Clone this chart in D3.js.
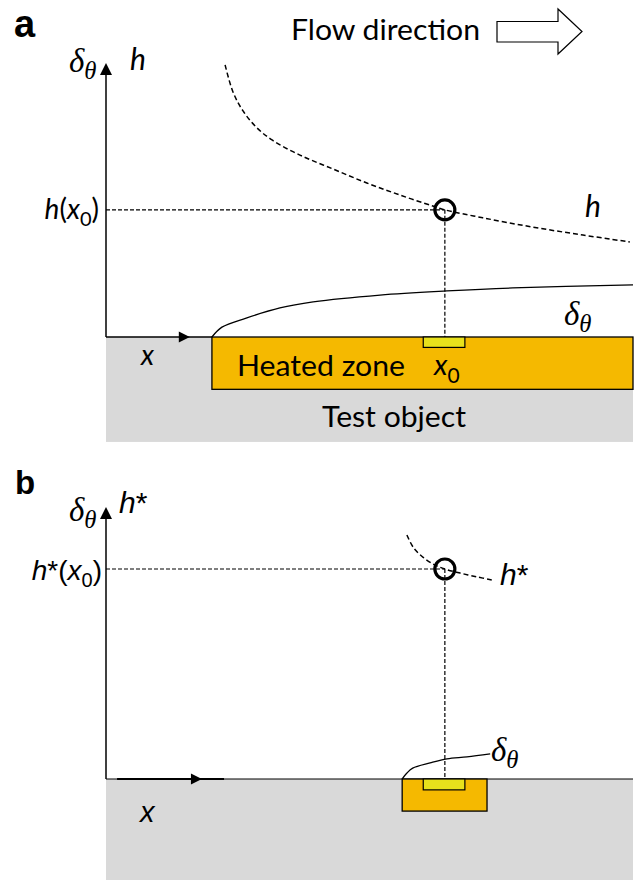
<!DOCTYPE html>
<html>
<head>
<meta charset="utf-8">
<script src="https://cdn.jsdelivr.net/npm/d3@7"></script>
<style>
  html, body { margin: 0; padding: 0; background: #fff; }
  svg { display: block; }
</style>
</head>
<body>
<div id="chart"></div>
<script>
// ---- Schematic data (abscissa 0..10 along the wall, ordinate 0..10 above the wall) ----
// Panel a: heat transfer coefficient h(x) over a long heated zone
const hCurveX = [2.26, 2.41, 2.60, 2.85, 3.15, 3.68, 4.31, 4.95, 5.58, 6.20, 6.43, 7.15, 8.10, 9.05, 9.94];
const hCurveY = [9.93, 8.94, 8.25, 7.66, 7.19, 6.64, 6.13, 5.62, 5.18, 4.78, 4.64, 4.35, 4.01, 3.72, 3.47];
// Panel a: thermal boundary layer thickness starting at the heated zone edge
const deltaAX = [2.01, 2.20, 2.66, 3.30, 3.93, 5.20, 6.47, 7.72, 10.0];
const deltaAY = [0.00, 0.36, 0.69, 1.06, 1.28, 1.53, 1.68, 1.79, 1.90];
// Panel b: local coefficient h* over a small heated patch
const hStarX = [5.71, 5.84, 6.03, 6.24, 6.43, 6.72, 7.04, 7.32];
const hStarY = [8.97, 8.49, 8.13, 7.87, 7.72, 7.57, 7.43, 7.32];
// Panel b: thin boundary layer over the patch
const deltaBX = [5.62, 5.71, 5.82, 6.15, 6.47, 6.85, 7.29];
const deltaBY = [0.00, 0.22, 0.40, 0.59, 0.74, 0.81, 0.92];

// Measurement point x0 and read-off values
const x0 = 6.43;
const hAtX0 = 4.64;
const hStarAtX0 = 7.72;

// Solid bodies: [xStart, xEnd, depth below wall]
const heatedZoneA = [2.01, 10.0, 1.91];
const sensorA = [6.02, 6.81, 0.38];
const testObjectA = [0, 10, 3.83];
const heatedZoneB = [5.62, 7.23, 1.18];
const sensorB = [6.02, 6.81, 0.40];
const testObjectB = [0, 10, 3.72];

// Axis arrow positions (along x)
const xArrowA = [0, 1.59];
const xArrowB = [0.21, 2.24, 1.82];

const W = 635, H = 880;
const SANS = "Lato, 'Open Sans', sans-serif";
const ARIAL = "'Liberation Sans', Arial, sans-serif";
const SERIF = "'Liberation Serif', 'Times New Roman', serif";
const ORANGE = "#f5b900";
const YELLOW = "#e8e11c";
const GREY = "#d9d9d9";

const svg = d3.select("#chart").append("svg")
  .attr("width", W).attr("height", H)
  .attr("viewBox", `0 0 ${W} ${H}`);

const x = d3.scaleLinear().domain([0, 10]).range([106, 633]);
const yA = d3.scaleLinear().domain([0, 10]).range([337, 63]);
const yB = d3.scaleLinear().domain([0, 10]).range([779, 507]);

const line = (xs, ys, ys2) => d3.line()
  .x((d, i) => x(xs[i]))
  .y((d, i) => ys2(ys[i]))
  .curve(d3.curveCatmullRom.alpha(0.5))(xs);

function deltaTheta(g, px, py, size) {
  const t = g.append("text")
    .attr("x", px).attr("y", py)
    .attr("font-family", SERIF).attr("font-style", "italic")
    .attr("font-size", size).attr("fill", "#000");
  t.append("tspan").text("δ");
  t.append("tspan").attr("font-size", size * 0.75).attr("dy", size * 0.22).text("θ");
  return t;
}

function yAxisArrow(g, ys) {
  g.append("line")
    .attr("x1", x(0)).attr("x2", x(0))
    .attr("y1", ys(0)).attr("y2", ys(10) + 10)
    .attr("stroke", "#000").attr("stroke-width", 1.5);
  g.append("path")
    .attr("d", `M${x(0)},${ys(10)} L${x(0) - 6},${ys(10) + 12} L${x(0) + 6},${ys(10) + 12} Z`)
    .attr("fill", "#000");
}

function xArrowHead(g, xs, yv) {
  g.append("path")
    .attr("d", `M${x(xs)},${yv} L${x(xs) - 11},${yv - 5.5} L${x(xs) - 11},${yv + 5.5} Z`)
    .attr("fill", "#000");
}

function guide(g, x1, y1, x2, y2) {
  g.append("line")
    .attr("x1", x1).attr("x2", x2).attr("y1", y1).attr("y2", y2)
    .attr("stroke", "#000").attr("stroke-width", 1.2).attr("stroke-dasharray", "4,2");
}

// ================= Panel a =================
const gA = svg.append("g");

gA.append("text").attr("x", 14).attr("y", 37)
  .attr("font-family", ARIAL).attr("font-weight", "bold").attr("font-size", 38)
  .text("a");

// Flow direction label and outlined arrow
gA.append("text").attr("x", 291).attr("y", 40)
  .attr("font-family", SANS).attr("font-size", 28)
  .attr("textLength", 189).attr("lengthAdjust", "spacingAndGlyphs")
  .text("Flow direction");
gA.append("path")
  .attr("d", "M497,21.5 H558 V9 L582,31.5 L558,54 V42 H497 Z")
  .attr("fill", "#fff").attr("stroke", "#000").attr("stroke-width", 1.2);

// Test object (grey) and heated zone (orange)
gA.append("rect")
  .attr("x", x(testObjectA[0])).attr("y", yA(0))
  .attr("width", x(testObjectA[1]) - x(testObjectA[0]))
  .attr("height", yA(-testObjectA[2]) - yA(0))
  .attr("fill", GREY);
gA.append("rect")
  .attr("x", x(heatedZoneA[0])).attr("y", yA(0))
  .attr("width", x(heatedZoneA[1]) - x(heatedZoneA[0]))
  .attr("height", yA(-heatedZoneA[2]) - yA(0))
  .attr("fill", ORANGE).attr("stroke", "#000").attr("stroke-width", 1.3);
gA.append("rect")
  .attr("x", x(sensorA[0])).attr("y", yA(0))
  .attr("width", x(sensorA[1]) - x(sensorA[0]))
  .attr("height", yA(-sensorA[2]) - yA(0))
  .attr("fill", YELLOW).attr("stroke", "#000").attr("stroke-width", 1.2);

// Axes
yAxisArrow(gA, yA);
gA.append("line")
  .attr("x1", x(xArrowA[0])).attr("x2", x(heatedZoneA[0]))
  .attr("y1", yA(0)).attr("y2", yA(0))
  .attr("stroke", "#000").attr("stroke-width", 1.5);
xArrowHead(gA, xArrowA[1], yA(0));

// Guides to the measurement point
guide(gA, x(0), yA(hAtX0), x(x0), yA(hAtX0));
guide(gA, x(x0), yA(hAtX0), x(x0), yA(0));

// Curves
gA.append("path").attr("d", line(hCurveX, hCurveY, yA))
  .attr("fill", "none").attr("stroke", "#000").attr("stroke-width", 1.5)
  .attr("stroke-dasharray", "5,3");
gA.append("path").attr("d", line(deltaAX, deltaAY, yA))
  .attr("fill", "none").attr("stroke", "#000").attr("stroke-width", 1.3);

gA.append("circle").attr("cx", x(x0)).attr("cy", yA(hAtX0)).attr("r", 10)
  .attr("fill", "none").attr("stroke", "#000").attr("stroke-width", 3.2);

// Labels
deltaTheta(gA, 69, 72, 33);
gA.append("text").attr("x", 130).attr("y", 70)
  .attr("font-family", SANS).attr("font-style", "italic").attr("font-size", 30).text("h");
{
  const t = gA.append("text").attr("x", 99).attr("y", 219).attr("text-anchor", "end")
    .attr("font-family", SANS).attr("font-size", 28);
  t.append("tspan").attr("font-style", "italic").text("h");
  t.append("tspan").text("(");
  t.append("tspan").attr("font-style", "italic").text("x");
  t.append("tspan").attr("font-size", 20).attr("dy", 7).text("0");
  t.append("tspan").attr("dy", -7).text(")");
}
gA.append("text").attr("x", 585).attr("y", 217)
  .attr("font-family", SANS).attr("font-style", "italic").attr("font-size", 30).text("h");
deltaTheta(gA, 564, 325, 33);
gA.append("text").attr("x", 141).attr("y", 365)
  .attr("font-family", SANS).attr("font-style", "italic").attr("font-size", 28).text("x");
gA.append("text").attr("x", 237).attr("y", 376)
  .attr("font-family", SANS).attr("font-size", 29)
  .attr("textLength", 168).attr("lengthAdjust", "spacingAndGlyphs")
  .text("Heated zone");
{
  const t = gA.append("text").attr("x", 434).attr("y", 375)
    .attr("font-family", SANS).attr("font-size", 29);
  t.append("tspan").attr("font-style", "italic").text("x");
  t.append("tspan").attr("font-size", 21).attr("dy", 8).text("0");
}
gA.append("text").attr("x", 322).attr("y", 427)
  .attr("font-family", SANS).attr("font-size", 29)
  .attr("textLength", 144).attr("lengthAdjust", "spacingAndGlyphs")
  .text("Test object");

// ================= Panel b =================
const gB = svg.append("g");

gB.append("text").attr("x", 15).attr("y", 494)
  .attr("font-family", ARIAL).attr("font-weight", "bold").attr("font-size", 33)
  .text("b");

gB.append("rect")
  .attr("x", x(testObjectB[0])).attr("y", yB(0))
  .attr("width", x(testObjectB[1]) - x(testObjectB[0]))
  .attr("height", yB(-testObjectB[2]) - yB(0))
  .attr("fill", GREY);
gB.append("line")
  .attr("x1", x(0)).attr("x2", x(10))
  .attr("y1", yB(0)).attr("y2", yB(0))
  .attr("stroke", "#000").attr("stroke-width", 1);
gB.append("rect")
  .attr("x", x(heatedZoneB[0])).attr("y", yB(0))
  .attr("width", x(heatedZoneB[1]) - x(heatedZoneB[0]))
  .attr("height", yB(-heatedZoneB[2]) - yB(0))
  .attr("fill", ORANGE).attr("stroke", "#000").attr("stroke-width", 1.3);
gB.append("rect")
  .attr("x", x(sensorB[0])).attr("y", yB(0))
  .attr("width", x(sensorB[1]) - x(sensorB[0]))
  .attr("height", yB(-sensorB[2]) - yB(0))
  .attr("fill", YELLOW).attr("stroke", "#000").attr("stroke-width", 1.2);

yAxisArrow(gB, yB);
gB.append("line")
  .attr("x1", x(xArrowB[0])).attr("x2", x(xArrowB[1]))
  .attr("y1", yB(0)).attr("y2", yB(0))
  .attr("stroke", "#000").attr("stroke-width", 2);
xArrowHead(gB, xArrowB[2], yB(0));

guide(gB, x(0), yB(hStarAtX0), x(x0), yB(hStarAtX0));
guide(gB, x(x0), yB(hStarAtX0), x(x0), yB(0));

gB.append("path").attr("d", line(hStarX, hStarY, yB))
  .attr("fill", "none").attr("stroke", "#000").attr("stroke-width", 1.5)
  .attr("stroke-dasharray", "5,3");
gB.append("path").attr("d", line(deltaBX, deltaBY, yB))
  .attr("fill", "none").attr("stroke", "#000").attr("stroke-width", 1.3);

gB.append("circle").attr("cx", x(x0)).attr("cy", yB(hStarAtX0)).attr("r", 10)
  .attr("fill", "none").attr("stroke", "#000").attr("stroke-width", 3.2);

deltaTheta(gB, 69, 521, 33);
{
  const t = gB.append("text").attr("x", 119).attr("y", 513)
    .attr("font-family", ARIAL).attr("font-size", 30);
  t.append("tspan").attr("font-style", "italic").text("h");
  t.append("tspan").text("*");
}
{
  const t = gB.append("text").attr("x", 102).attr("y", 580).attr("text-anchor", "end")
    .attr("font-family", ARIAL).attr("font-size", 28);
  t.append("tspan").attr("font-style", "italic").text("h");
  t.append("tspan").text("*(");
  t.append("tspan").attr("font-style", "italic").text("x");
  t.append("tspan").attr("font-size", 20).attr("dy", 7).text("0");
  t.append("tspan").attr("dy", -7).text(")");
}
{
  const t = gB.append("text").attr("x", 500).attr("y", 585)
    .attr("font-family", ARIAL).attr("font-size", 30);
  t.append("tspan").attr("font-style", "italic").text("h");
  t.append("tspan").text("*");
}
gB.append("text").attr("x", 140).attr("y", 822)
  .attr("font-family", ARIAL).attr("font-style", "italic").attr("font-size", 29).text("x");
deltaTheta(gB, 491, 761, 33);
</script>
</body>
</html>
